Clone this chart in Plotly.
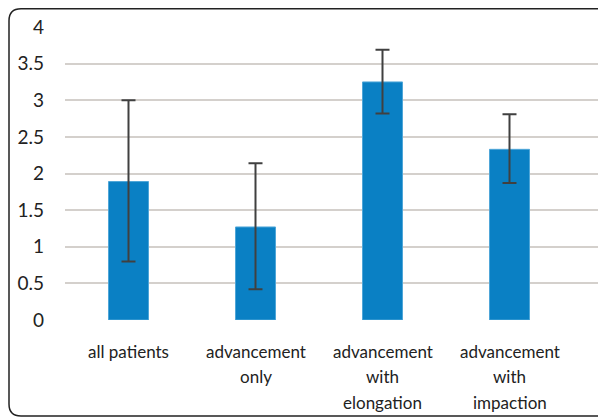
import plotly.graph_objects as go

categories = ["all patients", "advancement<br>only", "advancement<br>with<br>elongation", "advancement<br>with<br>impaction"]
values = [1.89, 1.27, 3.25, 2.33]
err_plus = [1.11, 0.87, 0.44, 0.48]
err_minus = [1.09, 0.85, 0.43, 0.46]
y_ticks = [0, 0.5, 1, 1.5, 2, 2.5, 3, 3.5, 4]
y_tick_labels = ["0", "0.5", "1", "1.5", "2", "2.5", "3", "3.5", "4"]

O = 8  # default page body margin
PAGE_W, PAGE_H = 606, 417
W, H = PAGE_W - O, PAGE_H - O
# plot area in page pixels
PL, PR, PT, PB = 65, 636, 27, 320
ML, MT = PL - O, PT - O
MB = H - (PB - O)
MR = 0
PW, PH = W - ML - MR, H - MT - MB
x_max = -0.5 + PW / 127.0

def px(x):
    return (x - O - ML) / PW

def py(y):
    return (H - MB - (y - O)) / PH

fig = go.Figure()
fig.add_trace(go.Bar(
    x=list(range(len(categories))),
    y=values,
    marker=dict(color="#0A80C4", line=dict(color="#4FA6D8", width=1)),
    width=0.315,
    error_y=dict(type="data", symmetric=False, array=err_plus, arrayminus=err_minus,
                 color="#404040", thickness=2, width=7),
))

# category labels, one annotation per line for Excel-like line pitch
line_centers = [351, 376.5, 402]
for i, cat in enumerate(categories):
    for j, line in enumerate(cat.split("<br>")):
        fig.add_annotation(x=i, xref="x", y=py(line_centers[j]), yref="paper",
                           text=line, showarrow=False, yanchor="middle",
                           xanchor="center", font=dict(size=17, color="#222222"))

# rounded frame
r = 12
x0, x1, y0, y1 = 9, 609, 8.8, 416
path = (f"M {px(x0)},{py(y0 + r)} Q {px(x0)},{py(y0)} {px(x0 + r)},{py(y0)} "
        f"L {px(x1 - r)},{py(y0)} Q {px(x1)},{py(y0)} {px(x1)},{py(y0 + r)} "
        f"L {px(x1)},{py(y1 - r)} Q {px(x1)},{py(y1)} {px(x1 - r)},{py(y1)} "
        f"L {px(x0 + r)},{py(y1)} Q {px(x0)},{py(y1)} {px(x0)},{py(y1 - r)} Z")
fig.add_shape(type="path", path=path, xref="paper", yref="paper",
              line=dict(color="#222222", width=1.5), layer="above")

fig.update_layout(
    width=W, height=H,
    margin=dict(l=ML, r=MR, t=MT, b=MB, autoexpand=False),
    paper_bgcolor="white", plot_bgcolor="white",
    showlegend=False,
    font=dict(family="Lato, 'Open Sans', sans-serif", size=17, color="#222222"),
    xaxis=dict(
        range=[-0.5, x_max],
        automargin=False,
        tickmode="array",
        tickvals=list(range(len(categories))),
        ticktext=["" for _ in categories],
        showgrid=False, zeroline=False, showline=False,
        ticks="",
    ),
    yaxis=dict(
        range=[0, 4],
        automargin=False,
        tickmode="array", tickvals=y_ticks, ticktext=y_tick_labels,
        showgrid=True, gridcolor="#D4D0CC", gridwidth=1.5,
        zeroline=False, showline=False, ticks="",
        ticklabelstandoff=20,
        tickfont=dict(size=19),
    ),
)

fig.write_html("out.html")
